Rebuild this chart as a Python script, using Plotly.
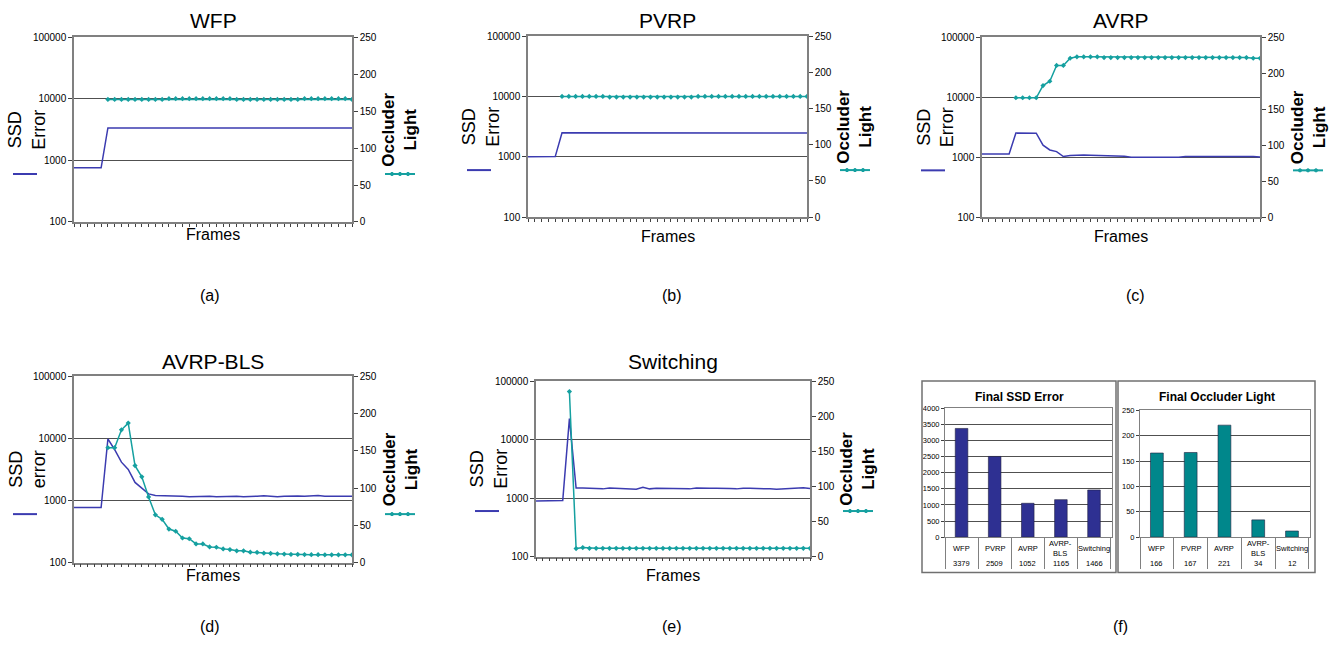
import plotly.graph_objects as go

W, H = 1343, 655
FONT = "Liberation Sans, Arial, sans-serif"

# ---------------- data ----------------
FRAMES = list(range(42))

WFP_SSD = [760, 760, 760, 760, 760,
           3379, 3379, 3379, 3379, 3379,
           3379, 3379, 3379, 3379, 3379, 3379, 3379, 3379, 3379, 3379,
           3379, 3379, 3379, 3379, 3379, 3379, 3379, 3379, 3379, 3379,
           3379, 3379, 3379, 3379, 3379, 3379, 3379, 3379, 3379, 3379,
           3379, 3379]
WFP_LIGHT = [None, None, None, None, None,
             166, 166, 166, 166, 166,
             166, 166, 166, 166, 167, 167, 167, 167, 167, 167,
             167, 167, 167, 167, 166, 166, 166, 166, 166, 166,
             166, 166, 166, 166, 167, 167, 167, 167, 167, 167,
             167, 166]

PVRP_SSD = [1000, 1000, 1010, 1010, 1010,
            2515, 2515, 2515, 2515, 2515,
            2515, 2515, 2515, 2515, 2515, 2515, 2515, 2515, 2470, 2470,
            2470, 2470, 2470, 2470, 2510, 2510, 2510, 2510, 2510, 2510,
            2510, 2510, 2510, 2510, 2510, 2510, 2510, 2510, 2485, 2485,
            2485, 2485]
PVRP_LIGHT = [None, None, None, None, None,
              167, 167, 167, 167, 167,
              167, 167, 166, 166, 166, 166, 166, 166, 166, 166,
              166, 166, 166, 166, 166, 167, 167, 167, 167, 167,
              167, 167, 167, 167, 167, 167, 167, 167, 167, 167,
              167, 167]

AVRP_SSD = [1135, 1135, 1135, 1135, 1135,
            2530, 2540, 2540, 2520, 1590,
            1320, 1240, 1025, 1065, 1090, 1090, 1080, 1075, 1075, 1075,
            1040, 1040, 1000, 1000, 1000, 1000, 1000, 1000, 1000, 1000,
            1030, 1030, 1030, 1030, 1050, 1050, 1050, 1050, 1030, 1030,
            1025, 1010]
AVRP_LIGHT = [None, None, None, None, None,
              166, 166, 166, 166, 183,
              189, 211, 211, 221, 223, 223, 223, 223, 222, 222,
              222, 222, 222, 222, 222, 222, 222, 222, 222, 222,
              222, 222, 222, 222, 222, 222, 222, 222, 222, 222,
              221, 221]

BLS_SSD = [770, 770, 770, 770, 770,
           9750, 6540, 4130, 3160, 1950,
           1585, 1275, 1200, 1200, 1190, 1190, 1170, 1150, 1160, 1180,
           1170, 1150, 1160, 1190, 1170, 1150, 1150, 1170, 1190, 1170,
           1150, 1170, 1190, 1180, 1170, 1190, 1200, 1170, 1165, 1180,
           1170, 1165]
BLS_LIGHT = [None, None, None, None, None,
             154, 154, 178, 187, 130,
             115, 88, 64, 58, 45, 42, 33, 32, 25, 25,
             21, 20.6, 18.4, 17.5, 15.8, 15.8, 14, 13.6, 12.7, 12.3,
             11.8, 11.4, 11, 11, 10.8, 10.7, 10.6, 10.5, 10.5, 10.5,
             10.5, 10.5]

SW_SSD = [890, 890, 890, 890, 910,
          22760, 1490, 1490, 1470, 1480,
          1440, 1490, 1480, 1450, 1420, 1420, 1530, 1440, 1470, 1470,
          1480, 1450, 1480, 1440, 1490, 1470, 1480, 1480, 1490, 1460,
          1440, 1480, 1470, 1470, 1460, 1440, 1420, 1440, 1440, 1470,
          1500, 1466]
SW_LIGHT = [None, None, None, None, None,
            235, 11.6, 13, 12, 12,
            12, 12, 12, 12, 12, 12, 12, 12, 12, 12,
            12, 12, 12, 12, 12, 12, 12, 12, 12, 12,
            12, 12, 12, 12, 12, 12, 12, 12, 12, 12,
            12, 12]

SSD_TICKS = [100, 1000, 10000, 100000]
SSD_TICK_TEXT = ["100", "1000", "10000", "100000"]

METHODS = ["WFP", "PVRP", "AVRP", "AVRP-BLS", "Switching"]
METHOD_LABELS = ["WFP", "PVRP", "AVRP", "AVRP-<br>BLS", "Switching"]
FINAL_SSD = [3379, 2509, 1052, 1165, 1466]
FINAL_LIGHT = [166, 167, 221, 34, 12]

# ---------------- styles ----------------
C_SSD = "#3B3BB0"
C_LIGHT = "#15A0A0"
C_BAR_SSD = "#2E3092"
C_BAR_LIGHT = "#00878B"
AXC = "#808080"
GRIDC = "#505050"


def px(x):
    return x / W


def py(y):
    return 1 - y / H


panels = [
    dict(title="WFP", ylab="SSD<br>Error", ssd=WFP_SSD, light=WFP_LIGHT,
         box=(74, 352, 32, 220), ty=15, fy=233, cap="(a)", cx=210, cy=295),
    dict(title="PVRP", ylab="SSD<br>Error", ssd=PVRP_SSD, light=PVRP_LIGHT,
         box=(528, 807, 31, 215), ty=15, fy=235, cap="(b)", cx=672, cy=295),
    dict(title="AVRP", ylab="SSD<br>Error", ssd=AVRP_SSD, light=AVRP_LIGHT,
         box=(982, 1260, 32, 215), ty=15, fy=235, cap="(c)", cx=1135, cy=295),
    dict(title="AVRP-BLS", ylab="SSD<br>error", ssd=BLS_SSD, light=BLS_LIGHT,
         box=(74, 352, 377, 567), ty=362, fy=580, cap="(d)", cx=210, cy=632),
    dict(title="Switching", ylab="SSD<br>Error", ssd=SW_SSD, light=SW_LIGHT,
         box=(536, 810, 382, 561), ty=362, fy=580, cap="(e)", cx=672, cy=632),
]

fig = go.Figure()
layout = {}
annotations = []
shapes = []


def axkey(prefix, n):
    return prefix + ("" if n == 1 else str(n))


for k, p in enumerate(panels):
    xn = k + 1
    yl = 2 * k + 1
    yr = 2 * k + 2
    x0, x1, y0, y1 = p["box"]
    xref = "x" + ("" if xn == 1 else str(xn))
    ylref = "y" + ("" if yl == 1 else str(yl))
    yrref = "y" + str(yr)

    layout[axkey("xaxis", xn)] = dict(
        domain=[px(x0), px(x1)], anchor=ylref, range=[0, 41],
        tickvals=FRAMES, showticklabels=False, ticks="outside", ticklen=3,
        tickcolor="#404040", tickwidth=1, showgrid=False, zeroline=False,
        showline=True, linecolor=AXC, linewidth=1.5, mirror=True)
    layout[axkey("yaxis", yl)] = dict(
        domain=[py(y1), py(y0)], anchor=xref, type="log", range=[2, 5],
        tickvals=SSD_TICKS, ticktext=SSD_TICK_TEXT, ticks="outside",
        ticklen=4, tickcolor="#404040", showgrid=True, gridcolor=GRIDC,
        gridwidth=1, zeroline=False, showline=True, linecolor=AXC,
        linewidth=1.5, tickfont=dict(size=10, color="black", family=FONT))
    layout[axkey("yaxis", yr)] = dict(
        domain=[py(y1), py(y0)], anchor=xref, overlaying=ylref, side="right",
        range=[0, 250], dtick=50, ticks="outside", ticklen=4,
        tickcolor="#404040", showgrid=False, zeroline=False, showline=True,
        linecolor=AXC, linewidth=1.5,
        tickfont=dict(size=10, color="black", family=FONT))

    fig.add_trace(go.Scatter(x=FRAMES, y=p["ssd"], mode="lines",
                             line=dict(color=C_SSD, width=1.5),
                             xaxis=xref, yaxis=ylref, name="SSD Error"))
    fig.add_trace(go.Scatter(x=FRAMES, y=p["light"], mode="lines+markers",
                             line=dict(color=C_LIGHT, width=1.5),
                             marker=dict(color=C_LIGHT, size=4, symbol="diamond"),
                             xaxis=xref, yaxis=yrref, name="Occluder Light"))

    cxm = (x0 + x1) / 2
    midy = (y0 + y1) / 2
    legy = y0 + 0.74 * (y1 - y0)
    annotations += [
        dict(text=p["title"], x=px(cxm), y=py(p["ty"]), xref="paper", yref="paper",
             showarrow=False, font=dict(size=21, family=FONT, color="black"),
             xanchor="center", yanchor="middle"),
        dict(text=p["ylab"], x=px(x0 - 47), y=py(midy), xref="paper", yref="paper",
             showarrow=False, textangle=-90,
             font=dict(size=18, family=FONT, color="black"),
             xanchor="center", yanchor="middle"),
        dict(text="<b>Occluder<br>Light</b>", x=px(x1 + 48), y=py(midy),
             xref="paper", yref="paper", showarrow=False, textangle=-90,
             font=dict(size=17, family=FONT, color="black"),
             xanchor="center", yanchor="middle"),
        dict(text="Frames", x=px(cxm), y=py(p["fy"]), xref="paper", yref="paper",
             showarrow=False, font=dict(size=16, family=FONT, color="black"),
             xanchor="center", yanchor="middle"),
        dict(text=p["cap"], x=px(p["cx"]), y=py(p["cy"]), xref="paper", yref="paper",
             showarrow=False, font=dict(size=16, family=FONT, color="black"),
             xanchor="center", yanchor="middle"),
    ]
    # legend glyphs
    shapes.append(dict(type="line", xref="paper", yref="paper",
                       x0=px(x0 - 61), x1=px(x0 - 37), y0=py(legy), y1=py(legy),
                       line=dict(color=C_SSD, width=2)))
    shapes.append(dict(type="line", xref="paper", yref="paper",
                       x0=px(x1 + 33), x1=px(x1 + 63), y0=py(legy), y1=py(legy),
                       line=dict(color=C_LIGHT, width=2)))
    for dx in (40, 48, 56):
        shapes.append(dict(type="circle", xref="paper", yref="paper",
                           x0=px(x1 + dx - 1.6), x1=px(x1 + dx + 1.6),
                           y0=py(legy + 1.6), y1=py(legy - 1.6),
                           fillcolor=C_LIGHT, line=dict(color=C_LIGHT, width=1)))

# ---------------- bar charts (f) ----------------
bars = [
    dict(title="<b>Final SSD Error</b>", vals=FINAL_SSD, color=C_BAR_SSD,
         box=(922, 1116, 382, 577), plot=(945, 1112, 410, 541),
         rng=[0, 4000], dtick=500, xn=6, yn=11),
    dict(title="<b>Final Occluder Light</b>", vals=FINAL_LIGHT, color=C_BAR_LIGHT,
         box=(1118, 1315, 382, 577), plot=(1140, 1310, 412, 541),
         rng=[0, 250], dtick=50, xn=7, yn=12),
]
for b in bars:
    x0, x1, y0, y1 = b["plot"]
    xref = "x" + str(b["xn"])
    yref = "y" + str(b["yn"])
    layout[axkey("xaxis", b["xn"])] = dict(
        domain=[px(x0), px(x1)], anchor=yref, type="category",
        showticklabels=False, ticks="outside", tickson="boundaries",
        ticklen=31, tickcolor=AXC, tickwidth=1, showgrid=False,
        zeroline=False, showline=True, linecolor=AXC, linewidth=1, mirror=True)
    layout[axkey("yaxis", b["yn"])] = dict(
        domain=[py(y1), py(y0)], anchor=xref, range=b["rng"], dtick=b["dtick"],
        ticks="outside", ticklen=3, tickcolor="#404040", showgrid=True,
        gridcolor=GRIDC, gridwidth=1, zeroline=False, showline=True,
        linecolor=AXC, linewidth=1, mirror=True,
        tickfont=dict(size=7.5, color="black", family=FONT))
    fig.add_trace(go.Bar(x=METHODS, y=b["vals"], marker=dict(
        color=b["color"], line=dict(color="#202040", width=0.6)),
        xaxis=xref, yaxis=yref, width=0.38))
    bx0, bx1, by0, by1 = b["box"]
    shapes.append(dict(type="rect", xref="paper", yref="paper",
                       x0=px(bx0), x1=px(bx1), y0=py(by1), y1=py(by0),
                       line=dict(color="#707070", width=1.5)))
    annotations.append(dict(text=b["title"], x=px((bx0 + bx1) / 2), y=py(398),
                            xref="paper", yref="paper", showarrow=False,
                            font=dict(size=12, family=FONT, color="black"),
                            xanchor="center", yanchor="middle"))
    for m, lab, v in zip(METHODS, METHOD_LABELS, b["vals"]):
        annotations.append(dict(text=lab, x=m, xref=xref, y=py(552.5),
                                yref="paper", showarrow=False,
                                font=dict(size=7.5, family=FONT, color="black"),
                                xanchor="center", yanchor="middle"))
        annotations.append(dict(text=str(v), x=m, xref=xref, y=py(568),
                                yref="paper", showarrow=False,
                                font=dict(size=7.5, family=FONT, color="black"),
                                xanchor="center", yanchor="middle"))

annotations.append(dict(text="(f)", x=px(1120), y=py(632), xref="paper",
                        yref="paper", showarrow=False,
                        font=dict(size=16, family=FONT, color="black"),
                        xanchor="center", yanchor="middle"))

fig.update_layout(
    width=W, height=H, margin=dict(l=0, r=0, t=0, b=0),
    paper_bgcolor="white", plot_bgcolor="white", showlegend=False,
    font=dict(family=FONT, color="black"), hovermode=False,
    annotations=annotations, shapes=shapes, **layout)

fig.write_html("out.html", config={"displayModeBar": False},
               post_script="document.body.style.margin='0';"
                           "document.body.style.overflow='hidden';")
